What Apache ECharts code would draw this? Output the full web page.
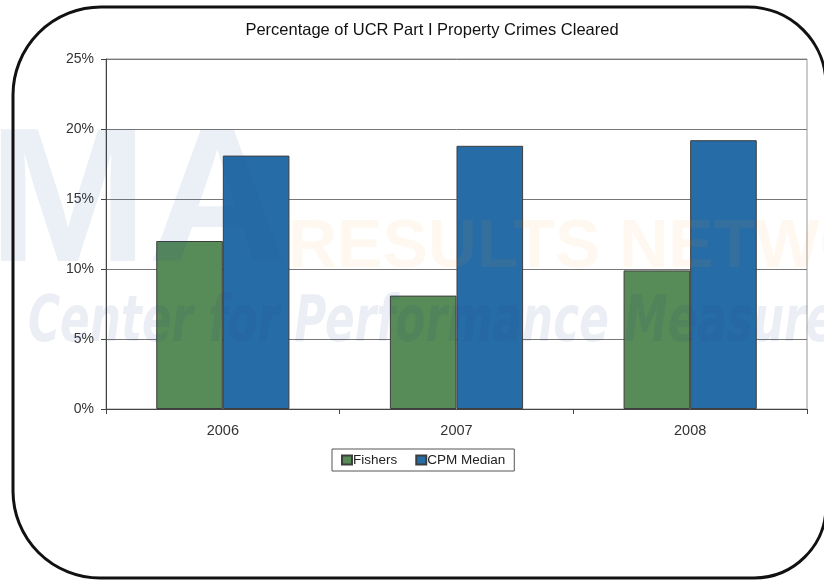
<!DOCTYPE html>
<html>
<head>
<meta charset="utf-8">
<script src="https://cdn.jsdelivr.net/npm/echarts@6/dist/echarts.min.js"></script>
<style>
  html, body { margin: 0; padding: 0; background: #fff; }
  #chart { width: 824px; height: 581px; }
</style>
</head>
<body>
<div id="chart"></div>
<script>
// data
const years = ['2006', '2007', '2008']
const fishers = [12.0, 8.1, 9.9]
const cpmMedian = [18.1, 18.8, 19.2]
const seriesNames = ['Fishers', 'CPM Median']

const chart = echarts.init(document.getElementById('chart'))
const font = 'Liberation Sans, Arial, sans-serif'

const option = {
  backgroundColor: '#fff',
  animation: false,
  title: {
    text: 'Percentage of UCR Part I Property Crimes Cleared',
    left: 427,
    textAlign: 'center',
    top: 17,
    textStyle: { fontFamily: font, fontSize: 16.5, fontWeight: 'normal', color: '#111' }
  },
  grid: {
    left: 106,
    right: 17,
    top: 59,
    bottom: 172,
    show: true,
    borderColor: '#999',
    borderWidth: 1
  },
  legend: {
    data: seriesNames,
    left: 332,
    top: 449,
    icon: 'rect',
    itemWidth: 10,
    itemHeight: 9,
    itemGap: 18,
    padding: [4, 9, 4, 9],
    borderColor: '#555',
    borderWidth: 1,
    textStyle: { fontFamily: font, fontSize: 13.5, color: '#222', padding: [0, 0, 0, -4] }
  },
  xAxis: {
    type: 'category',
    data: years,
    axisLine: { lineStyle: { color: '#444' } },
    axisTick: { show: true, length: 5, lineStyle: { color: '#444' } },
    axisLabel: { fontFamily: font, fontSize: 14.5, color: '#333', margin: 14 }
  },
  yAxis: {
    type: 'value',
    min: 0,
    max: 25,
    interval: 5,
    axisLine: { show: true, lineStyle: { color: '#444' } },
    axisTick: { show: true, length: 5, lineStyle: { color: '#444' } },
    axisLabel: { formatter: '{value}%', fontFamily: font, fontSize: 14, color: '#333', margin: 12 },
    splitLine: { lineStyle: { color: '#777' } }
  },
  series: [
    {
      name: seriesNames[0],
      type: 'bar',
      data: fishers,
      barGap: '0%',
      barCategoryGap: '43%',
      itemStyle: { color: '#578b57', borderColor: '#3e3e3e', borderWidth: 1 }
    },
    {
      name: seriesNames[1],
      type: 'bar',
      data: cpmMedian,
      itemStyle: { color: '#266ca6', borderColor: '#3e3e3e', borderWidth: 1 }
    }
  ],
  graphic: [
    // faint watermark over the plot
    {
      type: 'text', x: -12, y: 112, z: 100, silent: true,
      style: {
        text: 'MA', fontFamily: font, fontSize: 192, fontWeight: 'bold',
        fill: 'rgba(30,80,150,0.09)'
      }
    },
    {
      type: 'text', x: 288, y: 214, z: 100, silent: true,
      style: {
        text: 'RESULTS NETWORK', fontFamily: font, fontSize: 68, fontWeight: 'bold',
        fill: 'rgba(245,150,40,0.07)'
      }
    },
    {
      type: 'text', x: 28, y: 292, scaleX: 0.76, z: 100, silent: true,
      style: {
        text: 'Center for Performance Measurement', fontFamily: 'DejaVu Sans Condensed, sans-serif',
        fontSize: 64, fontWeight: 'bold', fontStyle: 'italic',
        fill: 'rgba(30,70,130,0.09)'
      }
    },
    // rounded frame
    {
      type: 'rect', z: 101, silent: true,
      shape: { x: 13, y: 7, width: 813, height: 571, r: [88, 78, 72, 87] },
      style: { fill: 'none', stroke: '#111', lineWidth: 3 }
    }
  ]
}

chart.setOption(option)
</script>
</body>
</html>
